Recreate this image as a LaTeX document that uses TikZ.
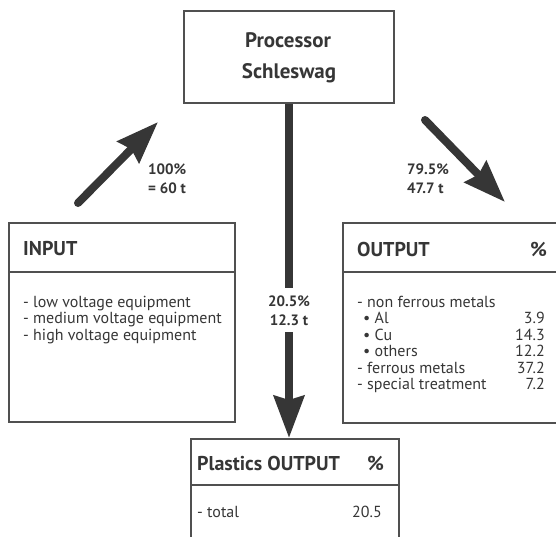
\documentclass[tikz,border=0pt]{standalone}
\usepackage{fontspec}
\setmainfont{PT Sans}
\usetikzlibrary{arrows.meta,positioning}
\definecolor{ink}{HTML}{363636}
\definecolor{rule}{HTML}{505050}

\tikzset{
  box/.style={draw=rule, line width=2pt, anchor=north west, inner sep=0pt},
  head/.style={text=ink, font=\fontsize{20}{22}\selectfont\bfseries, inner sep=0pt},
  item/.style={text=ink, font=\fontsize{16}{17}\selectfont, inner sep=0pt},
  qty/.style={text=ink, font=\fontsize{15}{19}\selectfont\bfseries, inner sep=0pt},
  flow/.style={draw=ink, line width=8pt},
  tip/.style={-{Stealth[length=42pt, width=30pt, inset=4pt]}},
}

\begin{document}
\begin{tikzpicture}[x=1pt, y=-1pt]
\useasboundingbox (0,0) rectangle (556,536);
\clip (0,0) rectangle (556,536);

% Boxes
\node[box, minimum width=210pt, minimum height=92pt] (proc) at (183,10) {};
\node[box, minimum width=226pt, minimum height=199pt] (input) at (8,222) {};
\node[box, minimum width=230pt, minimum height=200pt] (output) at (342,222) {};
\node[box, minimum width=208pt, minimum height=120pt] (plast) at (190,438) {};

\draw[rule, line width=2pt] (8,272) -- (234,272);
\draw[rule, line width=2pt] (342,272) -- (572,272);
\draw[rule, line width=2pt] (190,485) -- (398,485);

% Processor
\node[head, font=\fontsize{21}{22}\selectfont\bfseries, anchor=base] (proct) at (288,47) {Processor};
\node[head, font=\fontsize{21}{22}\selectfont\bfseries, anchor=base] (procs) at (289,78) {Schleswag};

% Input
\node[head, anchor=base west] (inhead) at (23,255) {INPUT};
\foreach \name [count=\i from 0] in {low, medium, high}
  \node[item, anchor=base west] (in\i) at (23,307+16.5*\i) {- \name\ voltage equipment};

% Output
\node[head, anchor=base west] (outhead) at (357,256) {OUTPUT};
\node[head, anchor=base east] (outpct) at (547,256) {\%};
\foreach \dx/\name/\val [count=\i from 0] in {0/{- non ferrous metals}/{}, 6/{\textbullet\ Al}/3.9, 6/{\textbullet\ Cu}/14.3, 6/{\textbullet\ others}/12.2, 0/{- ferrous metals}/37.2, 0/{- special treatment}/7.2}
{
  \node[item, anchor=base west] (oname\i) at (357+\dx,307+16.5*\i) {\name};
  \node[item, anchor=base east] (oval\i) at (545,307+16.5*\i) {\val};
}

% Plastics
\node[head, anchor=base west] (plhead) at (197,470) {Plastics OUTPUT};
\node[head, anchor=base east] (plpct) at (384,470) {\%};
\node[item, anchor=base west] (pltot) at (197,517) {- total};
\node[item, anchor=base east] (plval) at (382,517) {20.5};

% Flows
\node[qty, anchor=base west, align=left] (inqty) at (148,193) {100\%\\= 60 t};
\node[qty, anchor=base west, align=left] (outqty) at (407,193) {79.5\%\\47.7 t};
\node[qty, anchor=base, align=center, inner ysep=7pt] (plqty) at (289,325) {20.5\%\\12.3 t};

\coordinate (intail) at (78,203);
\coordinate (intip) at (158,122);
\coordinate (outtail) at (425,120);
\coordinate (outtip) at (505,202);

\draw[flow, tip, line cap=round] (intail) -- (intip);
\draw[flow, tip, line cap=round] (outtail) -- (outtip);
\draw[flow] (proc.south) -- (proc.south |- plqty.north);
\draw[flow, tip] (proc.south |- plqty.south) -- (proc.south |- plast.north);

\end{tikzpicture}
\end{document}
